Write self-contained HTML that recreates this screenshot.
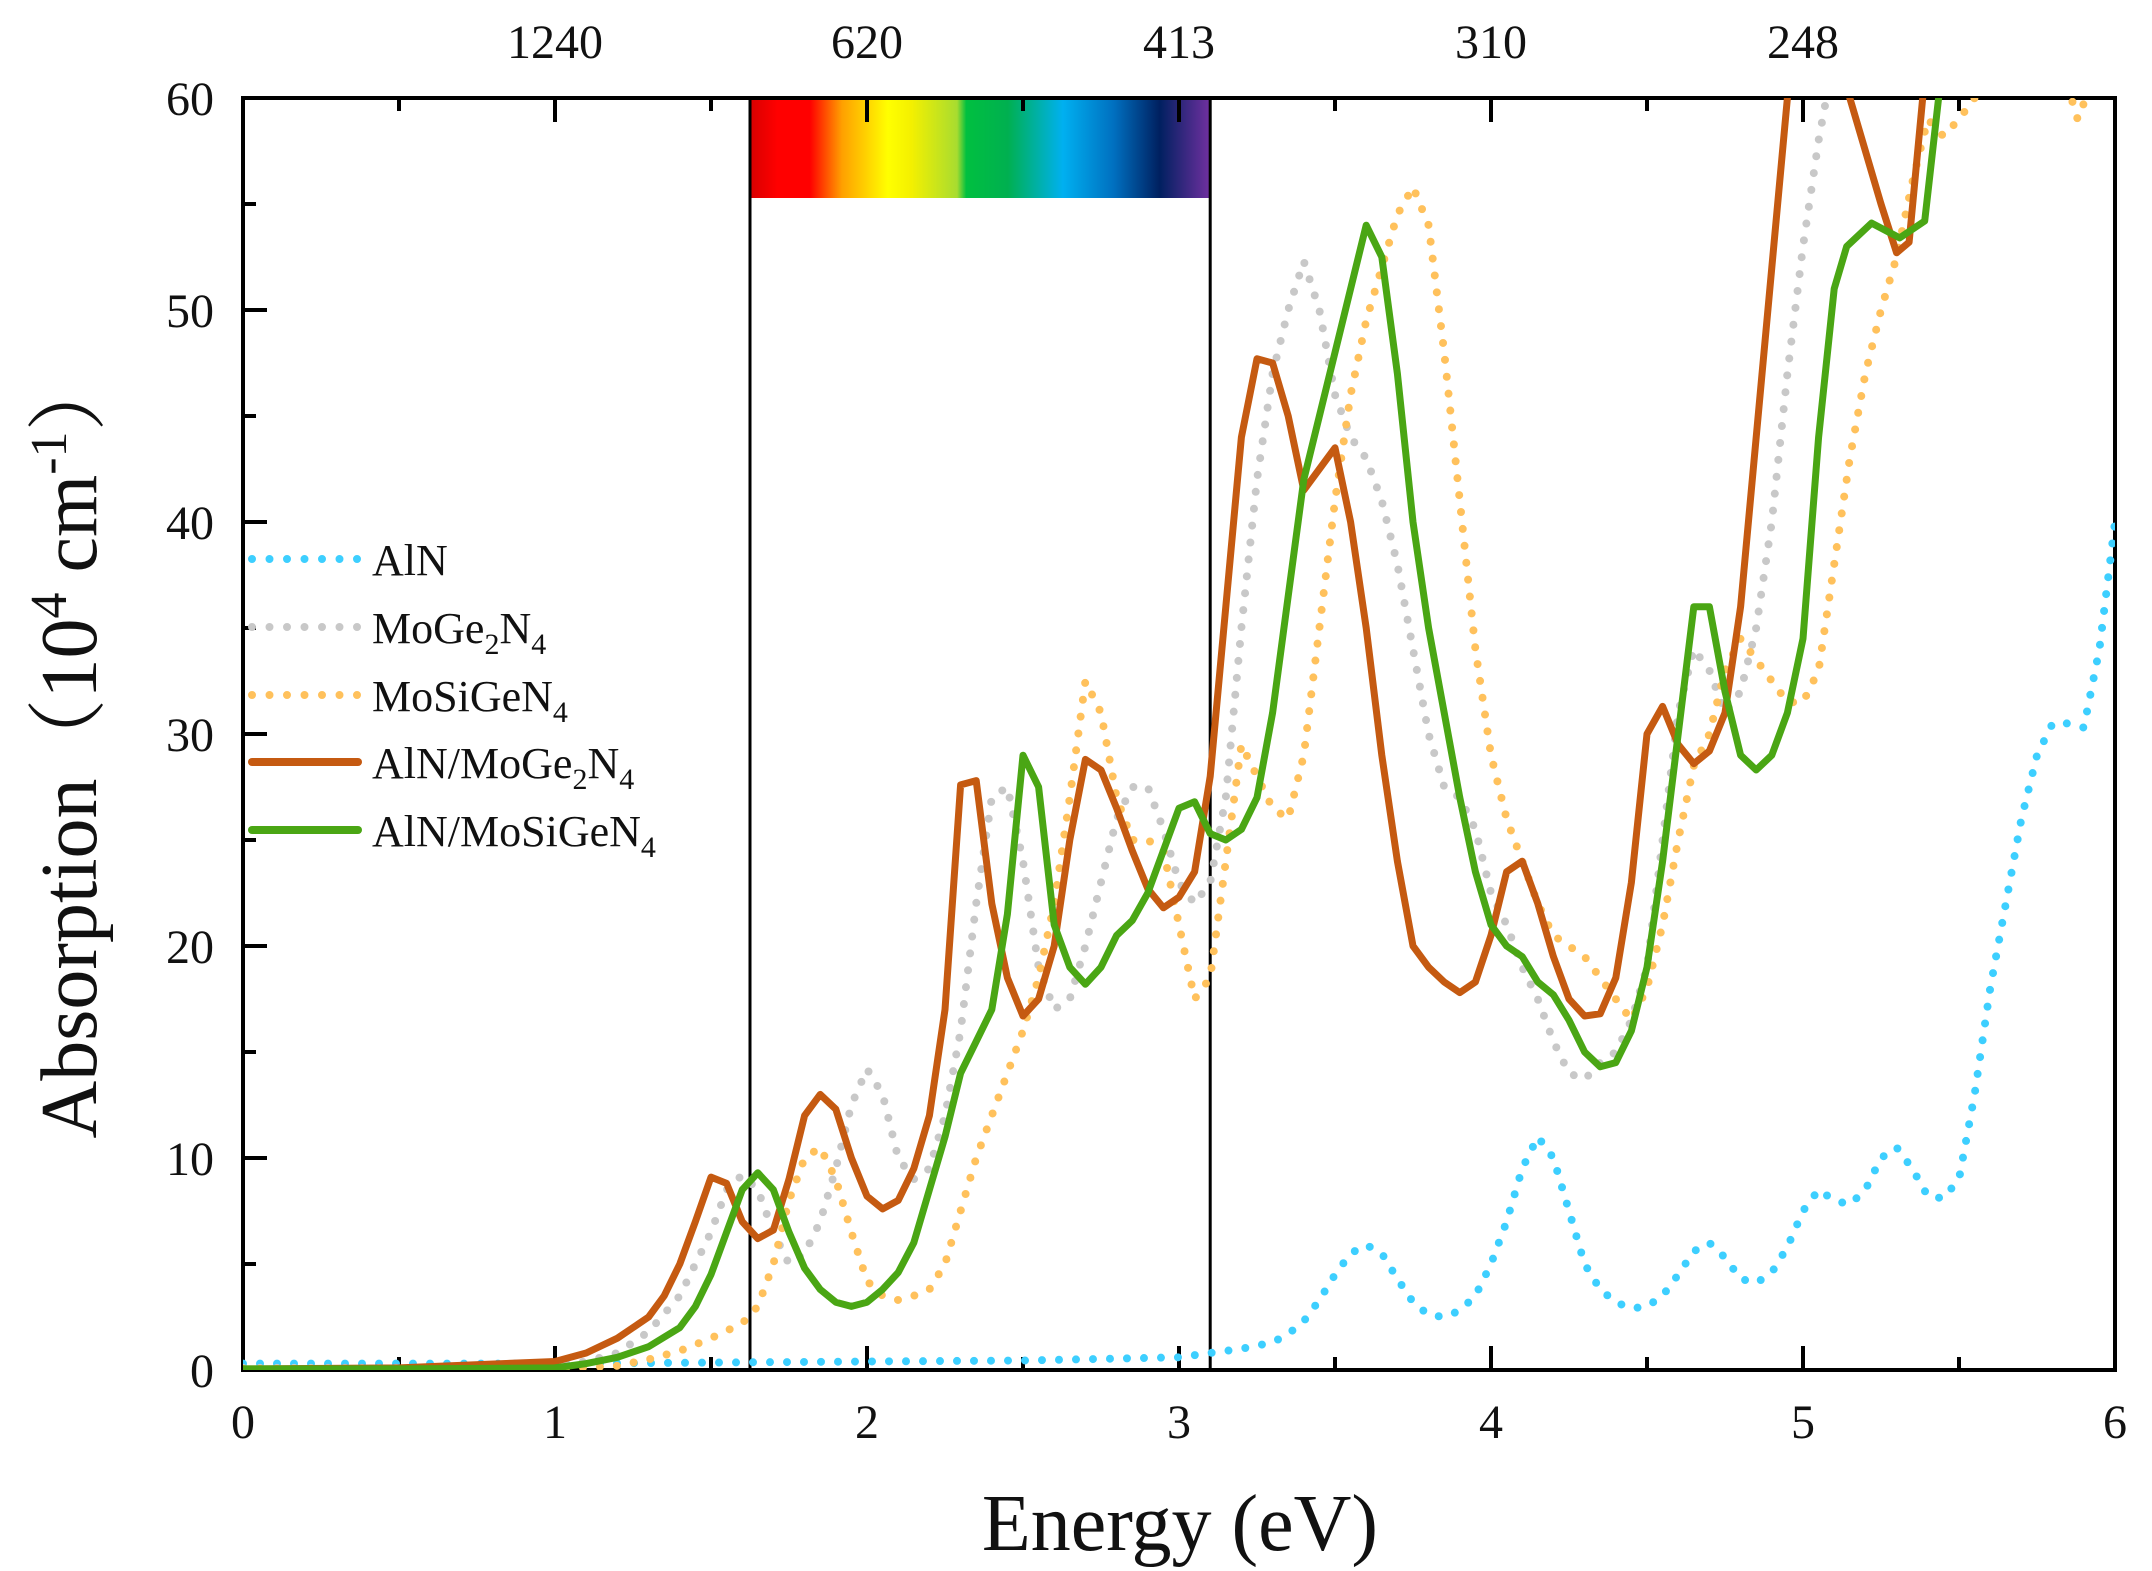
<!DOCTYPE html>
<html><head><meta charset="utf-8"><style>
html,body{margin:0;padding:0;background:#fff;}
svg{display:block;font-family:"Liberation Serif","Noto Serif CJK SC",serif;}
</style></head><body>
<svg id="chart" width="2152" height="1571" viewBox="0 0 2152 1571" xmlns="http://www.w3.org/2000/svg">
<defs>
<clipPath id="plotclip"><rect x="243" y="98" width="1872" height="1272"/></clipPath>
<linearGradient id="spec" x1="0" x2="1" y1="0" y2="0">
<stop offset="0" stop-color="#d80000"/><stop offset="0.06" stop-color="#ff0000"/><stop offset="0.13" stop-color="#ff0000"/>
<stop offset="0.2" stop-color="#ffa000"/><stop offset="0.3" stop-color="#ffff00"/><stop offset="0.35" stop-color="#f4f000"/>
<stop offset="0.45" stop-color="#a8dc30"/><stop offset="0.47" stop-color="#00c040"/><stop offset="0.56" stop-color="#00b050"/>
<stop offset="0.68" stop-color="#00b0f0"/><stop offset="0.79" stop-color="#0070c0"/><stop offset="0.89" stop-color="#002060"/>
<stop offset="1" stop-color="#7030a0"/>
</linearGradient>
</defs>
<g id="axes"></g>
<g id="series" clip-path="url(#plotclip)"></g>
<g id="legend"></g>
</svg>
<script>
const xTicks=[0,1,2,3,4,5,6];
const yTicks=[0,10,20,30,40,50,60];
const topLabels=["1240","620","413","310","248"];
const topPos=[1,2,3,4,5];

const alnX=[0,0.5,1,1.5,2,2.5,3,3.1,3.2,3.3,3.35,3.4,3.45,3.5,3.55,3.6,3.65,3.7,3.75,3.8,3.85,3.9,3.95,4,4.05,4.1,4.15,4.2,4.25,4.3,4.35,4.4,4.45,4.5,4.55,4.6,4.65,4.7,4.75,4.8,4.85,4.9,4.95,5,5.05,5.1,5.15,5.2,5.25,5.3,5.35,5.4,5.45,5.5,5.55,5.6,5.65,5.7,5.75,5.8,5.85,5.9,5.95,6];
const alnY=[0.3,0.3,0.3,0.35,0.4,0.45,0.6,0.8,1.0,1.3,1.7,2.3,3.3,4.5,5.5,5.9,5.5,4.3,3.2,2.6,2.5,2.8,3.5,5,7,9.5,11,10,7.5,5,3.8,3.2,2.9,3,3.5,4.5,5.6,6,5.3,4.3,4.1,4.6,5.8,7.5,8.5,8,7.8,8.5,10,10.5,9.5,8.2,8.1,9,13,18,22,26,29,30.5,30.5,30.3,34,40];

const grayX=[0,0.5,1,1.1,1.2,1.3,1.4,1.5,1.55,1.6,1.65,1.7,1.75,1.8,1.85,1.9,1.95,2,2.05,2.1,2.15,2.2,2.25,2.3,2.35,2.4,2.45,2.5,2.55,2.6,2.65,2.7,2.75,2.8,2.85,2.9,2.95,3,3.05,3.1,3.15,3.2,3.25,3.3,3.35,3.4,3.45,3.5,3.55,3.6,3.65,3.7,3.75,3.8,3.85,3.9,3.95,4,4.05,4.1,4.15,4.2,4.25,4.3,4.35,4.4,4.45,4.5,4.55,4.6,4.65,4.7,4.75,4.8,4.85,4.9,4.95,5,5.05,5.1,5.2];
const grayY=[0.1,0.1,0.2,0.4,0.8,1.8,3.5,6.5,8.5,9.2,8.5,6.5,5,5.5,7,9.5,12.5,14.2,13,10,9,9.5,12,16,22,27,27.5,24,19,17,17.5,20,23,26,27.5,27.5,25.5,23,22,23,27,35,42,47,50,52.3,50,46,44,43,41,38,34,30,27.5,27,25.5,22.5,21,19,17.5,15.5,14,13.7,14.5,15,16.5,19,25,31,34,33,31,32,35,40,47,53,58,62,66];

const msgX=[0,0.5,1,1.2,1.3,1.4,1.5,1.6,1.65,1.7,1.75,1.8,1.85,1.9,1.95,2,2.05,2.1,2.15,2.2,2.25,2.3,2.35,2.4,2.45,2.5,2.55,2.6,2.65,2.7,2.75,2.8,2.85,2.9,2.95,3,3.05,3.1,3.15,3.2,3.25,3.3,3.35,3.4,3.45,3.5,3.55,3.6,3.65,3.7,3.75,3.8,3.85,3.9,3.95,4,4.05,4.1,4.15,4.2,4.25,4.3,4.35,4.4,4.45,4.5,4.55,4.6,4.65,4.7,4.75,4.8,4.85,4.9,4.95,5,5.05,5.1,5.15,5.2,5.25,5.3,5.35,5.4,5.45,5.5,5.55,5.6,5.7,5.8,5.85,5.88,5.92,6];
const msgY=[0.05,0.05,0.05,0.2,0.5,0.9,1.5,2.2,3,5,8,10,10.5,9,6.5,4.2,3.5,3.3,3.5,3.8,5,7.5,10,12,14,16,18.5,22,27,32.5,31,27,25,25,24.5,21,17.5,18.5,24,29.5,28,26.5,26,29,35,41,46,49.5,52,54.5,55.8,54,48,41,34,29,26,24,22,20.5,20,19.5,18.5,17.5,16.5,18,21,25,28.5,30,33,34.5,33.5,32.5,31.5,31.5,33,38,43,47,50,52.5,56,59,58.2,59,60,61,62,61,60.5,59,60.5,62];

const aoX=[0,0.5,1,1.1,1.2,1.3,1.35,1.4,1.45,1.5,1.55,1.6,1.65,1.7,1.75,1.8,1.85,1.9,1.95,2,2.05,2.1,2.15,2.2,2.25,2.3,2.35,2.4,2.45,2.5,2.55,2.6,2.65,2.7,2.75,2.8,2.85,2.9,2.95,3,3.05,3.1,3.15,3.2,3.25,3.3,3.35,3.4,3.45,3.5,3.55,3.6,3.65,3.7,3.75,3.8,3.85,3.9,3.95,4,4.05,4.1,4.15,4.2,4.25,4.3,4.35,4.4,4.45,4.5,4.55,4.6,4.65,4.7,4.75,4.8,4.85,4.9,4.95,5,5.05,5.15,5.25,5.3,5.34,5.39,5.45,5.5];
const aoY=[0.05,0.1,0.4,0.8,1.5,2.5,3.5,5,7,9.1,8.8,7,6.2,6.6,9,12,13,12.3,10,8.2,7.6,8,9.5,12,17,27.6,27.8,22,18.5,16.7,17.5,20,25,28.8,28.3,26.5,24.5,22.7,21.8,22.3,23.5,28,36,44,47.7,47.5,45,41.5,42.5,43.5,40,35,29,24,20,19,18.3,17.8,18.3,20.5,23.5,24,22,19.5,17.5,16.7,16.8,18.5,23,30,31.3,29.5,28.6,29.2,31,36,44,52,60,68,72,60,55,52.7,53.2,61,66];

const agX=[0,0.5,1,1.1,1.2,1.3,1.4,1.45,1.5,1.55,1.6,1.65,1.7,1.75,1.8,1.85,1.9,1.95,2,2.05,2.1,2.15,2.2,2.25,2.3,2.35,2.4,2.45,2.5,2.55,2.6,2.65,2.7,2.75,2.8,2.85,2.9,2.95,3,3.05,3.1,3.15,3.2,3.25,3.3,3.35,3.4,3.45,3.5,3.55,3.6,3.65,3.7,3.75,3.8,3.85,3.9,3.95,4,4.05,4.1,4.15,4.2,4.25,4.3,4.35,4.4,4.45,4.5,4.55,4.6,4.65,4.7,4.75,4.8,4.85,4.9,4.95,5,5.05,5.1,5.14,5.22,5.31,5.39,5.45,5.5];
const agY=[0.05,0.05,0.1,0.3,0.6,1.1,2,3,4.5,6.5,8.5,9.3,8.5,6.5,4.8,3.8,3.2,3.0,3.2,3.8,4.6,6,8.5,11,14,15.5,17,21.5,29,27.5,21,19,18.2,19,20.5,21.2,22.5,24.5,26.5,26.8,25.3,25,25.5,27,31,36.5,42,45,48,51,54,52.5,47,40,35,31,27,23.5,21,20,19.5,18.3,17.7,16.5,15,14.3,14.5,16,19,24,30,36,36,32,29,28.3,29,31,34.5,44,51,53,54.1,53.4,54.2,62,66];

const X0=243,X1=2115,Y0=1370,Y1=98;
const sx=v=>X0+(v-0)/(6-0)*(X1-X0);
const sy=v=>Y0-(v-0)/(60-0)*(Y0-Y1);
const NS="http://www.w3.org/2000/svg";
function mk(tag,attrs,parent){const e=document.createElementNS(NS,tag);for(const k in attrs)e.setAttribute(k,attrs[k]);parent.appendChild(e);return e;}
const axes=document.getElementById('axes'),series=document.getElementById('series'),legend=document.getElementById('legend');

const cb=mk('rect',{x:sx(1.625),y:Y1,width:sx(3.1)-sx(1.625),height:100,fill:'url(#spec)'},axes);


[1.625,3.1].forEach(v=>{
  const l=mk('line',{x1:sx(v),x2:sx(v),y1:Y1,y2:Y0,stroke:'#000','stroke-width':3},axes);
  
  
});

for(let v=0;v<=6.001;v+=0.5){
  const maj=Math.abs(v-Math.round(v))<1e-6;
  const t=mk('line',{x1:sx(v),x2:sx(v),y1:Y0,y2:Y0-(maj?24:13),stroke:'#000','stroke-width':4},axes);
  
  
  const tt=mk('line',{x1:sx(v),x2:sx(v),y1:Y1,y2:Y1+(maj?24:13),stroke:'#000','stroke-width':4},axes);
  
  
}
for(let v=0;v<=60;v+=5){
  const maj=v%10===0;
  const t=mk('line',{x1:X0,x2:X0+(maj?24:13),y1:sy(v),y2:sy(v),stroke:'#000','stroke-width':4},axes);
  
  
}
xTicks.forEach(v=>{
  const t=mk('text',{x:sx(v),y:1438,'font-size':48,'text-anchor':'middle',fill:'#111'},axes);
  t.textContent=v;
  
  
});
yTicks.forEach(v=>{
  const t=mk('text',{x:214,y:sy(v)+17,'font-size':48,'text-anchor':'end',fill:'#111'},axes);
  t.textContent=v;
  
  
});
topLabels.forEach((s,i)=>{
  const t=mk('text',{x:sx(topPos[i]),y:58,'font-size':48,'text-anchor':'middle',fill:'#111'},axes);
  t.textContent=s;
  
  
});

function pts(xs,ys){return xs.map((x,i)=>sx(x).toFixed(1)+','+sy(ys[i]).toFixed(1)).join(' ');}
const defs=[
 {x:alnX,y:alnY,c:'#3dcfff',dot:true,n:'series-aln'},
 {x:grayX,y:grayY,c:'#c8c8c8',dot:true,n:'series-moge2n4'},
 {x:msgX,y:msgY,c:'#ffc15c',dot:true,n:'series-mosigen4'},
 {x:aoX,y:aoY,c:'#c55a11',dot:false,n:'series-aln-moge2n4'},
 {x:agX,y:agY,c:'#4aa614',dot:false,n:'series-aln-mosigen4'}];
defs.forEach(d=>{
  const a={points:pts(d.x,d.y),fill:'none',stroke:d.c,'stroke-width':d.dot?8:7,'stroke-linejoin':'round','stroke-linecap':'round'};
  if(d.dot)a['stroke-dasharray']='0 17';
  const p=mk('polyline',a,series);
  
  
});

const fr=mk('rect',{x:X0,y:Y1,width:X1-X0,height:Y0-Y1,fill:'none',stroke:'#000','stroke-width':4},axes);



const leg=[
 {c:'#3dcfff',dot:true,t:'AlN'},
 {c:'#c8c8c8',dot:true,t:'MoGe|2|N|4'},
 {c:'#ffc15c',dot:true,t:'MoSiGeN|4'},
 {c:'#c55a11',dot:false,t:'AlN/MoGe|2|N|4'},
 {c:'#4aa614',dot:false,t:'AlN/MoSiGeN|4'}];
const legY=[559,627,695,762,830];
leg.forEach((L,i)=>{
  const y=legY[i];
  const a={x1:252,x2:358,y1:y,y2:y,stroke:L.c,'stroke-width':8,'stroke-linecap':'round'};
  if(L.dot)a['stroke-dasharray']='0 17.5';
  const l=mk('line',a,legend);
  
  
  const t=mk('text',{x:372,y:y+16,'font-size':44,fill:'#111'},legend);
  
  
  L.t.split('|').forEach((s,j)=>{
    const ts=mk('tspan',{},t);
    if(j%2===1){ts.setAttribute('font-size','30');ts.setAttribute('dy','11');}
    else if(j>0){ts.setAttribute('dy','-11');}
    ts.textContent=s;
  });
});

const xt=mk('text',{x:1180,y:1550,'font-size':80,'text-anchor':'middle',fill:'#111'},axes);
xt.textContent='Energy (eV)';


const yt=mk('text',{x:0,y:0,'font-size':80,'text-anchor':'middle',fill:'#111',transform:'translate(96,745) rotate(-90)'},axes);


const a1=mk('tspan',{},yt);a1.textContent='Absorption（10';
const a2=mk('tspan',{'font-size':52,dy:-30},yt);a2.textContent='4';
const a3=mk('tspan',{dy:30},yt);a3.textContent=' cm';
const a4=mk('tspan',{'font-size':52,dy:-30},yt);a4.textContent='-1';
const a5=mk('tspan',{dy:30},yt);a5.textContent='）';
</script>
</body></html>
